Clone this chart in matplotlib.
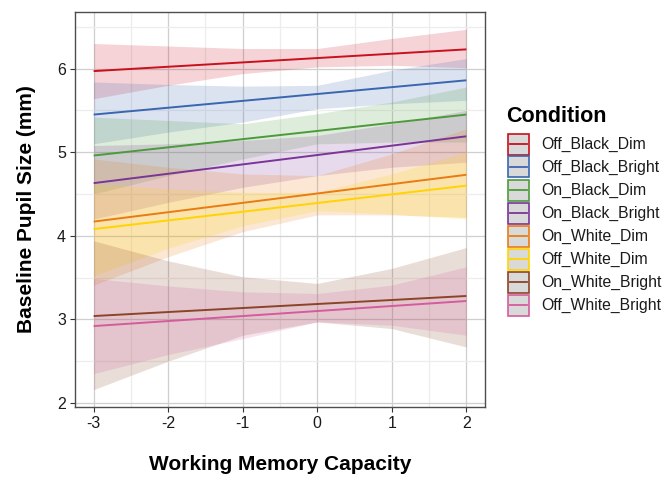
import matplotlib
matplotlib.use("Agg")
import matplotlib.pyplot as plt
from matplotlib.patches import Rectangle
from matplotlib.lines import Line2D
import numpy as np

plt.rcParams['font.family'] = ['Liberation Sans', 'DejaVu Sans']

conditions = ["Off_Black_Dim", "Off_Black_Bright", "On_Black_Dim", "On_Black_Bright",
              "On_White_Dim", "Off_White_Dim", "On_White_Bright", "Off_White_Bright"]
colors = ["#C8101E", "#3A66B0", "#4C9A3C", "#7A3596", "#E97B12", "#FFD400", "#8A4428", "#D35C9C"]

# fitted line endpoints at x = -3 and x = 2
line_x = [-3, 2]
line_y = {
    "Off_Black_Dim":    [5.97, 6.23],
    "Off_Black_Bright": [5.45, 5.86],
    "On_Black_Dim":     [4.96, 5.45],
    "On_Black_Bright":  [4.63, 5.19],
    "On_White_Dim":     [4.17, 4.73],
    "Off_White_Dim":    [4.08, 4.60],
    "On_White_Bright":  [3.04, 3.28],
    "Off_White_Bright": [2.92, 3.22],
}

# confidence band vertices
band_x = [-3, -2, -1, 0, 1, 2]
band_lo = {
    "Off_Black_Dim":    [5.64, 5.80, 5.94, 6.02, 6.04, 6.01],
    "Off_Black_Bright": [5.10, 5.24, 5.36, 5.52, 5.58, 5.62],
    "On_Black_Dim":     [4.50, 4.72, 4.92, 5.10, 5.12, 5.12],
    "On_Black_Bright":  [4.20, 4.40, 4.58, 4.72, 4.82, 4.88],
    "On_White_Dim":     [3.41, 3.75, 4.05, 4.25, 4.25, 4.22],
    "Off_White_Dim":    [3.52, 3.85, 4.12, 4.30, 4.26, 4.20],
    "On_White_Bright":  [2.16, 2.50, 2.81, 2.97, 2.89, 2.67],
    "Off_White_Bright": [2.35, 2.58, 2.77, 2.97, 2.93, 2.81],
}
band_hi = {
    "Off_Black_Dim":    [6.30, 6.27, 6.24, 6.24, 6.36, 6.47],
    "Off_Black_Bright": [5.84, 5.81, 5.79, 5.80, 5.98, 6.12],
    "On_Black_Dim":     [5.42, 5.38, 5.34, 5.46, 5.60, 5.78],
    "On_Black_Bright":  [5.08, 5.10, 5.14, 5.20, 5.34, 5.50],
    "On_White_Dim":     [4.92, 4.82, 4.74, 4.72, 4.98, 5.28],
    "Off_White_Dim":    [4.62, 4.56, 4.52, 4.52, 4.74, 5.00],
    "On_White_Bright":  [3.94, 3.70, 3.51, 3.43, 3.61, 3.86],
    "Off_White_Bright": [3.49, 3.40, 3.33, 3.31, 3.41, 3.63],
}

x_ticks = [-3, -2, -1, 0, 1, 2]
y_ticks = [2, 3, 4, 5, 6]

W, H = 666, 479
fig = plt.figure(figsize=(W / 100, H / 100), dpi=100)
ax = fig.add_axes([75 / W, 1 - 407 / H, 410 / W, 395 / H])

for c, col in zip(conditions, colors):
    ax.fill_between(band_x, band_lo[c], band_hi[c], color=col, alpha=0.18, lw=0, zorder=2)
for c, col in zip(conditions, colors):
    ax.plot(line_x, line_y[c], color=col, lw=1.4, zorder=3, solid_capstyle='butt')

ax.set_xlim(-3.25, 2.25)
ax.set_ylim(1.952, 6.677)
ax.set_xticks(x_ticks)
ax.set_xticklabels([str(v) for v in x_ticks])
ax.set_yticks(y_ticks)
ax.set_yticks([2.5, 3.5, 4.5, 5.5, 6.5], minor=True)
ax.set_xticks([-2.5, -1.5, -0.5, 0.5, 1.5], minor=True)
ax.grid(which='major', color='#CFCFCF', lw=0.9, zorder=0)
ax.grid(which='minor', color='#EDEDED', lw=0.9, zorder=0)
ax.set_axisbelow(True)
ax.tick_params(which='minor', length=0)
ax.tick_params(which='major', length=3.5, width=0.8, color='#333333', labelsize=11.5,
               labelcolor='#1A1A1A', pad=3)
for s in ax.spines.values():
    s.set_color('#4D4D4D')
    s.set_linewidth(1.0)

ax.set_xlabel("Working Memory Capacity", fontsize=15, fontweight='bold', labelpad=17)
ax.set_ylabel("Baseline Pupil Size (mm)", fontsize=15, fontweight='bold', labelpad=15)

# legend drawn in figure pixel coordinates
def fx(px):
    return px / W

def fy(py):
    return 1 - py / H

fig.text(fx(506), fy(114), "Condition", fontsize=15.5, fontweight='bold', va='center_baseline', ha='left')
key_top = 133
key_h = 23
for i, (c, col) in enumerate(zip(conditions, colors)):
    top = key_top + i * key_h
    fig.add_artist(Rectangle((fx(508), fy(top + key_h - 1.5)), 21 / W, (key_h - 2) / H,
                             transform=fig.transFigure, facecolor='#D9D9D9',
                             edgecolor=col, lw=1.2))
    cy = top + key_h / 2 - 0.5
    fig.add_artist(Line2D([fx(510), fx(527)], [fy(cy), fy(cy)], transform=fig.transFigure,
                          color=col, lw=1.3))
    fig.text(fx(541), fy(cy), c, fontsize=11.3, va='center', ha='left', color='#1A1A1A')

fig.savefig("out.png", dpi=100)
